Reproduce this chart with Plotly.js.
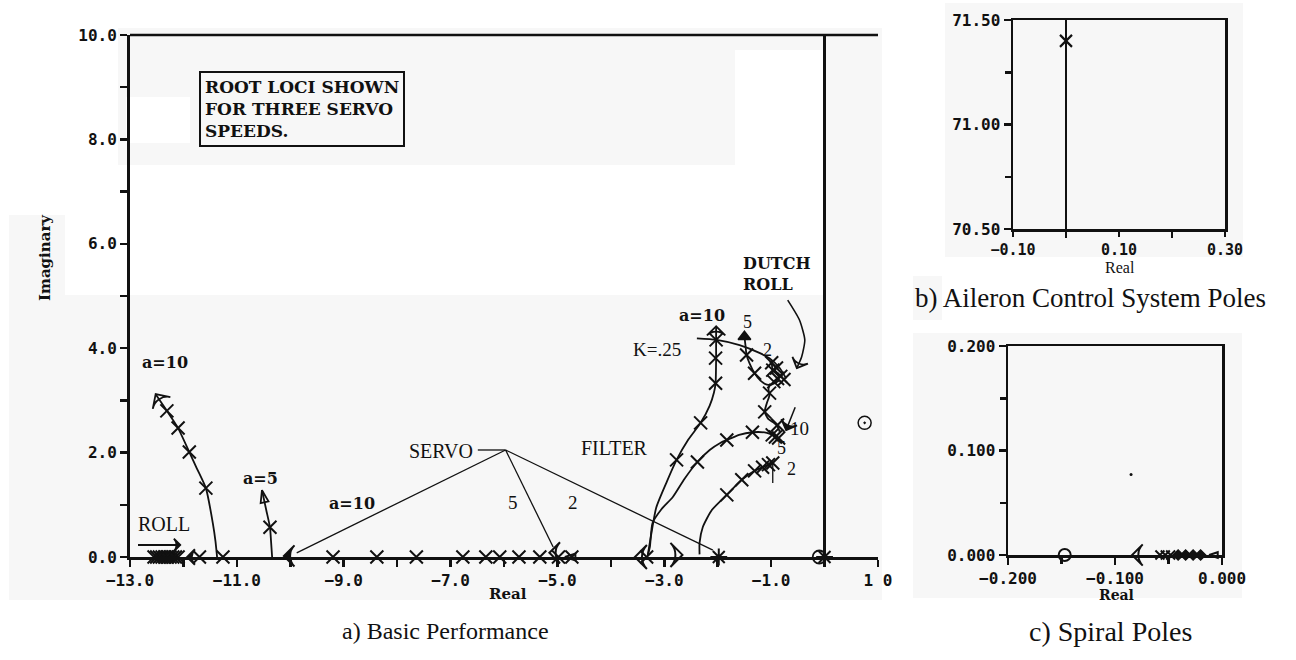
<!DOCTYPE html>
<html><head><meta charset="utf-8">
<script src="https://cdn.plot.ly/plotly-3.0.1.min.js"></script>
<style>html,body{margin:0;padding:0;background:#fff}#plot{width:1296px;height:660px}</style>
</head><body><div id="plot"></div>
<script>
// ---------- DATA ----------
// Panel a: main axis ticks
const mainXTicks = [-13, -11, -9, -7, -5, -3, -1, 1];
const mainXTickText = ["\u221213.0", "\u221211.0", "\u22129.0", "\u22127.0", "\u22125.0", "\u22123.0", "\u22121.0", "1 0"];
const mainXMinor = [-12, -10, -8, -6, -4, -2, 0];
const mainYTicks = [0, 2, 4, 6, 8, 10];
const mainYTickText = ["0.0", "2.0", "4.0", "6.0", "8.0", "10.0"];
const mainYMinor = [1, 3, 5, 7, 9];

// Servo loci leaving the real axis (left side)
const servo10X = [-11.37, -11.40, -11.45, -11.58, -11.75, -11.89, -12.10, -12.31, -12.52];
const servo10Y = [0.00, 0.30, 0.65, 1.32, 1.70, 2.01, 2.47, 2.80, 3.12];
const servo10MarkX = [-11.58, -11.89, -12.10, -12.31];
const servo10MarkY = [1.32, 2.01, 2.47, 2.80];
const servo5X = [-10.34, -10.36, -10.38, -10.45, -10.53];
const servo5Y = [0.00, 0.30, 0.57, 0.90, 1.28];
const servo5MarkX = [-10.38];
const servo5MarkY = [0.57];

// Roots marked along the real axis
const realMarkX = [-12.55, -12.50, -12.45, -12.40, -12.35, -12.30, -12.25, -12.20, -12.15, -12.10,
                   -11.70, -11.26, -9.20, -8.38, -7.64, -6.77, -6.34, -6.08, -5.72, -5.33, -4.98, -4.73, -3.33];
const realStarX = [-1.98, 0.0];
const realArrowX = [-11.93, -10.12, -5.15, -4.86, -3.55, -2.66];
const realArrowY = [0.0, 0.02, 0.08, 0.0, 0.0, 0.04];
const realArrowAngle = [-90, -90, -90, -90, -90, 90];
const blobX = [-9.97]; const blobY = [-0.05];
const zeroCircleX = [-0.10]; const zeroCircleY = [0.0];
const rhpCircleX = [0.75]; const rhpCircleY = [2.57];

// Roll arrow
const rollArrowX = [-12.85, -12.06]; const rollArrowY = [0.23, 0.23];

// Servo leader lines
const servoDashX = [-6.49, -5.97]; const servoDashY = [2.05, 2.05];
const lead10X = [-5.97, -9.88]; const lead10Y = [2.05, 0.08];
const lead5X = [-5.97, -5.08]; const lead5Y = [2.05, 0.19];
const lead2X = [-5.97, -2.09]; const lead2Y = [2.05, 0.13];

// Filter loci
const filtAX = [-3.31, -3.25, -3.15, -2.95, -2.77, -2.55, -2.32, -2.15, -2.07, -2.04, -2.03, -2.03];
const filtAY = [0.03, 0.40, 0.95, 1.45, 1.86, 2.25, 2.57, 2.90, 3.15, 3.33, 3.81, 4.42];
const filtAMarkX = [-2.77, -2.32, -2.04, -2.04, -2.03];
const filtAMarkY = [1.86, 2.57, 3.33, 3.81, 4.16];
const filtBX = [-3.31, -3.27, -3.22, -3.05, -2.84, -2.62, -2.38, -2.15, -1.96, -1.83, -1.60, -1.35, -1.08, -0.88];
const filtBY = [0.03, 0.19, 0.65, 0.92, 1.15, 1.50, 1.82, 2.05, 2.18, 2.24, 2.34, 2.39, 2.38, 2.30];
const filtBMarkX = [-2.38, -1.83, -1.35, -0.98, -0.92, -0.86];
const filtBMarkY = [1.82, 2.24, 2.39, 2.34, 2.30, 2.28];
const filtCX = [-2.34, -2.34, -2.28, -2.11, -1.83, -1.55, -1.31, -1.16, -0.97];
const filtCY = [0.05, 0.27, 0.57, 0.90, 1.19, 1.48, 1.65, 1.72, 1.80];
const filtCMarkX = [-1.83, -1.55, -1.31, -1.16, -1.05, -0.97];
const filtCMarkY = [1.19, 1.48, 1.65, 1.72, 1.77, 1.80];
const filtCTailX = [-0.97, -0.97]; const filtCTailY = [1.80, 1.42];

// Dutch roll loci
const kLineX = [-2.39, -2.02, -1.59, -1.22, -1.02, -0.84, -0.72];
const kLineY = [4.19, 4.16, 4.06, 3.91, 3.80, 3.62, 3.42];
const dr5X = [-1.50, -1.48, -1.46, -1.40, -1.31, -1.20, -1.08, -0.95, -0.85];
const dr5Y = [4.22, 4.05, 3.87, 3.70, 3.52, 3.38, 3.30, 3.32, 3.38];
const dr5MarkX = [-1.46, -1.31, -0.95, -0.88, -0.82, -0.76];
const dr5MarkY = [3.87, 3.52, 3.36, 3.42, 3.46, 3.40];
const dr2X = [-0.99, -0.97, -0.88, -0.79];
const dr2Y = [3.77, 3.58, 3.50, 3.45];
const dr2MarkX = [-0.99, -0.97, -0.90];
const dr2MarkY = [3.72, 3.58, 3.62];
const drDownX = [-1.02, -1.05, -1.03, -1.08, -1.12, -1.05, -0.96, -0.88, -0.84];
const drDownY = [3.32, 3.22, 3.10, 2.95, 2.78, 2.64, 2.58, 2.50, 2.40];
const drDownMarkX = [-1.03, -1.12, -0.88];
const drDownMarkY = [3.14, 2.78, 2.53];
const arrow10X = [-0.55, -0.72]; const arrow10Y = [2.87, 2.43];
const dutchArrowX = [-0.69, -0.47, -0.37, -0.43, -0.52];
const dutchArrowY = [4.92, 4.54, 4.16, 3.83, 3.62];

// Panel b
const bXTicks = [-0.10, 0.10, 0.30]; const bXTickText = ["\u22120.10", "0.10", "0.30"];
const bXMinor = [0.0, 0.20];
const bYTicks = [70.5, 71.0, 71.5]; const bYTickText = ["70.50", "71.00", "71.50"];
const bYMinor = [70.75, 71.25];
const bPoleX = [0.0]; const bPoleY = [71.40];

// Panel c
const cXTicks = [-0.2, -0.1, 0.0]; const cXTickText = ["\u22120.200", "\u22120.100", "0.000"];
const cXMinor = [-0.15, -0.05];
const cYTicks = [0, 0.1, 0.2]; const cYTickText = ["0.000", "0.100", "0.200"];
const cYMinor = [0.05, 0.15];
const cZeroX = [-0.147]; const cZeroY = [0.0];
const cCrossX = [-0.058, -0.053, -0.048]; const cCrossY = [0, 0, 0];
const cDiamX = [-0.041, -0.034, -0.027, -0.020]; const cDiamY = [0, 0, 0, 0];
const cArrowX = [-0.084, -0.012]; const cArrowY = [0, 0];
const cDotX = [-0.085]; const cDotY = [0.077];

// ---------- BUILD ----------
const W = 1296, H = 660;
const px = v => v / W, py = v => 1 - v / H;
const BLK = '#111';
const traces = [];
function line(x, y, w, xa, ya) {
  traces.push({x, y, mode: 'lines', line: {color: BLK, width: w || 1.6, shape: 'spline', smoothing: 0.6},
    xaxis: xa || 'x', yaxis: ya || 'y', hoverinfo: 'skip', cliponaxis: false, showlegend: false});
}
function straight(x, y, w) {
  traces.push({x, y, mode: 'lines', line: {color: BLK, width: w || 1.3}, hoverinfo: 'skip', cliponaxis: false, showlegend: false});
}
function marks(x, y, sym, size, lw, xa, ya, extra) {
  const m = Object.assign({symbol: sym, size: size, color: BLK, opacity: 1, line: {color: BLK, width: lw}}, extra || {});
  traces.push({x, y, mode: 'markers', marker: m, xaxis: xa || 'x', yaxis: ya || 'y',
    hoverinfo: 'skip', cliponaxis: false, showlegend: false});
}
function arrowEnd(x, y, sym, size) {
  const n = x.length;
  traces.push({x: [x[n - 2], x[n - 1]], y: [y[n - 2], y[n - 1]], mode: 'markers',
    marker: {symbol: sym, size: size, angleref: 'previous', color: BLK, opacity: [0, 1], line: {color: BLK, width: 1.8}},
    hoverinfo: 'skip', cliponaxis: false, showlegend: false});
}

// Loci
line(servo10X, servo10Y, 1.8); marks(servo10MarkX, servo10MarkY, 'x-thin-open', 13, 2); arrowEnd(servo10X, servo10Y, 'arrow-wide-open', 15);
line(servo5X, servo5Y, 1.8); marks(servo5MarkX, servo5MarkY, 'x-thin-open', 13, 2); arrowEnd(servo5X, servo5Y, 'arrow-open', 13);
straight(rollArrowX, rollArrowY, 1.8); arrowEnd(rollArrowX, rollArrowY, 'arrow-wide', 9);
straight(servoDashX, servoDashY, 1.3); straight(lead10X, lead10Y); straight(lead5X, lead5Y); straight(lead2X, lead2Y);
line(filtAX, filtAY, 1.8); marks(filtAMarkX, filtAMarkY, 'x-thin-open', 13, 2); arrowEnd(filtAX, filtAY, 'arrow-wide-open', 13);
line(filtBX, filtBY, 1.8); marks(filtBMarkX, filtBMarkY, 'x-thin-open', 13, 2);
line(filtCX, filtCY, 1.8); marks(filtCMarkX, filtCMarkY, 'x-thin-open', 13, 2); straight(filtCTailX, filtCTailY, 1.3);
line(kLineX, kLineY, 1.8);
line(dr5X.slice().reverse(), dr5Y.slice().reverse(), 1.8); marks(dr5MarkX, dr5MarkY, 'x-thin-open', 13, 2);
marks([dr5X[0]], [dr5Y[0]], 'triangle-up', 11, 1.5);
line(dr2X, dr2Y, 1.8); marks(dr2MarkX, dr2MarkY, 'x-thin-open', 13, 2);
line(drDownX, drDownY, 1.8); marks(drDownMarkX, drDownMarkY, 'x-thin-open', 13, 2);
straight(arrow10X, arrow10Y, 1.5); arrowEnd(arrow10X, arrow10Y, 'arrow-wide', 12);
line(dutchArrowX, dutchArrowY, 1.6); arrowEnd(dutchArrowX, dutchArrowY, 'arrow-wide-open', 12);
// Real axis roots
marks(realMarkX, realMarkX.map(() => 0), 'x-thin-open', 13, 2);
marks(realStarX, realStarX.map(() => 0), 'asterisk-open', 14, 2);
traces.push({x: realArrowX, y: realArrowY, mode: 'markers', hoverinfo: 'skip', cliponaxis: false, showlegend: false,
  marker: {symbol: ['arrow-wide', 'arrow-wide', 'arrow-wide-open', 'arrow-open', 'arrow-wide-open', 'arrow-wide-open'],
    size: [11, 15, 15, 11, 17, 17], angle: realArrowAngle, color: BLK, opacity: 1, line: {color: BLK, width: 2}}});
marks(blobX, blobY, 'circle', 8, 1);
marks(zeroCircleX, zeroCircleY, 'circle-open', 13, 1.8);
marks(rhpCircleX, rhpCircleY, 'circle-open-dot', 13, 1.5);

// Panel b
marks(bPoleX, bPoleY, 'x-thin-open', 12, 2.2, 'x2', 'y2');
// Panel c
marks(cZeroX, cZeroY, 'circle-open', 12, 2, 'x3', 'y3');
marks(cCrossX, cCrossY, 'x-thin-open', 9, 2, 'x3', 'y3');
marks(cDiamX, cDiamY, 'diamond', 8, 1.2, 'x3', 'y3');
traces.push({x: cArrowX, y: cArrowY, mode: 'markers', xaxis: 'x3', yaxis: 'y3', hoverinfo: 'skip', cliponaxis: false, showlegend: false,
  marker: {symbol: ['arrow-wide-open', 'arrow-open'], size: [15, 9], angle: [-90, -90], color: BLK, opacity: 1, line: {color: BLK, width: 2}}});
marks(cDotX, cDotY, 'circle', 3, 0, 'x3', 'y3');

const tickFont = {family: 'DejaVu Sans Mono', size: 16, color: BLK, weight: 'bold'};
function axis(extra) {
  return Object.assign({showgrid: false, zeroline: false, showline: true, linecolor: BLK, linewidth: 3,
    ticks: 'outside', ticklen: 7, tickwidth: 2.5, tickcolor: BLK, tickfont: tickFont, tickmode: 'array', fixedrange: true}, extra);
}
function minor(vals, len) { return {tickvals: vals, ticklen: len || 6, tickwidth: 2.5, tickcolor: BLK, ticks: 'outside'}; }

const serif = 'Liberation Serif';
const bserif = 'DejaVu Serif';
function ann(x, y, text, size, bold, opts) {
  return Object.assign({x, y, xref: 'x', yref: 'y', text, showarrow: false, xanchor: 'center', yanchor: 'middle',
    font: {family: bold ? bserif : serif, size, color: BLK, weight: bold ? 'bold' : 'normal'}}, opts || {});
}
function pann(x, y, text, size, fam, opts) {
  return Object.assign({x: px(x), y: py(y), xref: 'paper', yref: 'paper', text, showarrow: false,
    xanchor: 'center', yanchor: 'middle', font: {family: fam, size, color: BLK}}, opts || {});
}

const gray = '#f7f7f7';
function rect(x0, y0, x1, y1, c) {
  return {type: 'rect', xref: 'paper', yref: 'paper', x0: px(x0), x1: px(x1), y0: py(y1), y1: py(y0),
    fillcolor: c, line: {width: 0}, layer: 'below'};
}

const layout = {
  width: W, height: H, margin: {l: 0, r: 0, t: 0, b: 0},
  paper_bgcolor: '#fff', plot_bgcolor: 'rgba(0,0,0,0)', showlegend: false,
  xaxis: axis({domain: [px(130), px(878)], range: [-13, 1.0], tickvals: mainXTicks, ticktext: mainXTickText,
    minor: minor(mainXMinor, 7), zeroline: true, zerolinecolor: BLK, zerolinewidth: 2.5, anchor: 'y'}),
  yaxis: axis({domain: [py(557), py(35)], range: [0, 10], tickvals: mainYTicks, ticktext: mainYTickText,
    minor: minor(mainYMinor, 7), anchor: 'x'}),
  xaxis2: axis({domain: [px(1013), px(1225)], range: [-0.1, 0.3], tickvals: bXTicks, ticktext: bXTickText,
    minor: minor(bXMinor, 6), mirror: true, linewidth: 2.5, zeroline: true, zerolinecolor: BLK, zerolinewidth: 2.5, anchor: 'y2',
    ticklen: 5, tickfont: {family: 'DejaVu Sans Mono', size: 15, color: BLK, weight: 'bold'}}),
  yaxis2: axis({domain: [py(229), py(20)], range: [70.5, 71.5], tickvals: bYTicks, ticktext: bYTickText,
    minor: minor(bYMinor, 6), mirror: true, linewidth: 2.5, anchor: 'x2'}),
  xaxis3: axis({domain: [px(1008), px(1222)], range: [-0.2, 0.0], tickvals: cXTicks, ticktext: cXTickText,
    minor: minor(cXMinor, 6), mirror: true, linewidth: 2.5, anchor: 'y3'}),
  yaxis3: axis({domain: [py(555), py(346)], range: [0, 0.2], tickvals: cYTicks, ticktext: cYTickText,
    minor: minor(cYMinor, 6), mirror: true, linewidth: 2.5, anchor: 'x3'}),
  shapes: [
    rect(118, 28, 882, 165, gray), rect(9, 215, 65, 295, gray), rect(825, 165, 882, 295, gray),
    rect(9, 295, 882, 600, gray),
    rect(126, 97, 190, 143, '#fff'), rect(735, 50, 823, 165, '#fff'),
    rect(945, 3, 1243, 257, gray), rect(913, 276, 942, 320, gray), rect(913, 333, 1242, 598, gray),
    {type: 'line', xref: 'x domain', yref: 'y domain', x0: 0, x1: 1, y0: 1, y1: 1, line: {color: BLK, width: 2.5}}
  ],
  annotations: [
    ann(-12.35, 3.72, 'a=10', 16, true),
    ann(-10.55, 1.51, 'a=5', 16, true),
    ann(-12.36, 0.63, 'ROLL', 20, false),
    ann(-8.85, 1.03, 'a=10', 16, true),
    ann(-6.55, 2.03, 'SERVO', 20, false, {xanchor: 'right'}),
    ann(-5.84, 1.05, '5', 19, false),
    ann(-4.70, 1.05, '2', 19, false),
    ann(-3.93, 2.09, 'FILTER', 20, false),
    ann(-3.14, 3.98, 'K=.25', 19, false),
    ann(-2.30, 4.62, 'a=10', 16, true),
    ann(-1.44, 4.50, '5', 18, false),
    ann(-1.07, 3.97, '2', 18, false),
    ann(-1.56, 5.42, 'DUTCH<br>ROLL', 16, true, {xanchor: 'left', align: 'left'}),
    ann(-0.47, 2.47, '10', 19, false),
    ann(-0.80, 2.09, '5', 18, false),
    ann(-0.62, 1.69, '2', 18, false),
    pann(199, 71, 'ROOT LOCI SHOWN<br>FOR THREE SERVO<br>SPEEDS.', 17, bserif,
      {xanchor: 'left', yanchor: 'top', align: 'left', bordercolor: BLK, borderwidth: 2, borderpad: 4,
       font: {family: bserif, size: 17, color: BLK, weight: 'bold'}}),
    pann(508, 594, 'Real', 15, bserif, {font: {family: bserif, size: 15, color: BLK, weight: 'bold'}}),
    pann(45, 258, 'Imaginary', 15, bserif, {textangle: -90, font: {family: bserif, size: 15, color: BLK, weight: 'bold'}}),
    pann(1120, 267, 'Real', 16, serif),
    pann(1116, 595, 'Real', 14, bserif, {font: {family: bserif, size: 14, color: BLK, weight: 'bold'}}),
    pann(445, 631, 'a) Basic Performance', 24, serif),
    pann(913, 298, 'b) Aileron Control System Poles', 27, serif, {xanchor: 'left'}),
    pann(1110, 631, 'c) Spiral Poles', 28, serif)
  ]
};
Plotly.newPlot('plot', traces, layout, {staticPlot: true, displayModeBar: false});
</script></body></html>
